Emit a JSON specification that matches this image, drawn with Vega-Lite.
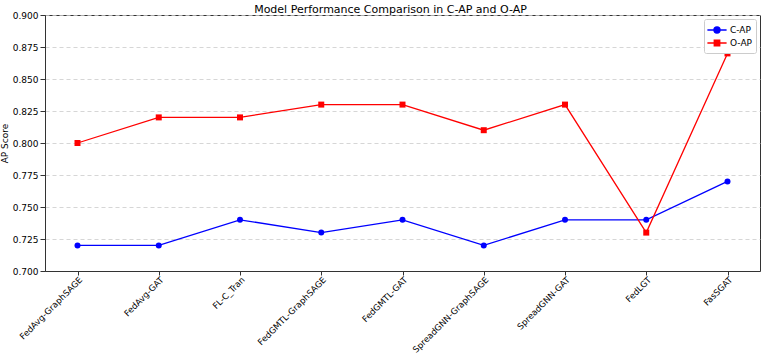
{
  "$schema": "https://vega.github.io/schema/vega-lite/v6.json",
  "width": 715,
  "height": 256,
  "autosize": {"type": "none"},
  "padding": {"left": 45, "top": 15, "right": 1, "bottom": 85},
  "title": {"text": "Model Performance Comparison in C-AP and O-AP", "fontSize": 11, "fontWeight": "normal", "font": "DejaVu Sans", "offset": 2, "dy": 6, "color": "#000000", "dx": -12},
  "config": {
    "font": "DejaVu Sans",
    "view": {"stroke": "#333333", "strokeWidth": 1}
  },
  "data": {"values": [
    {"model": "FedAvg-GraphSAGE", "metric": "C-AP", "value": 0.72},
    {"model": "FedAvg-GAT", "metric": "C-AP", "value": 0.72},
    {"model": "FL-C_Tran", "metric": "C-AP", "value": 0.74},
    {"model": "FedGMTL-GraphSAGE", "metric": "C-AP", "value": 0.73},
    {"model": "FedGMTL-GAT", "metric": "C-AP", "value": 0.74},
    {"model": "SpreadGNN-GraphSAGE", "metric": "C-AP", "value": 0.72},
    {"model": "SpreadGNN-GAT", "metric": "C-AP", "value": 0.74},
    {"model": "FedLGT", "metric": "C-AP", "value": 0.74},
    {"model": "FasSGAT", "metric": "C-AP", "value": 0.77},
    {"model": "FedAvg-GraphSAGE", "metric": "O-AP", "value": 0.80},
    {"model": "FedAvg-GAT", "metric": "O-AP", "value": 0.82},
    {"model": "FL-C_Tran", "metric": "O-AP", "value": 0.82},
    {"model": "FedGMTL-GraphSAGE", "metric": "O-AP", "value": 0.83},
    {"model": "FedGMTL-GAT", "metric": "O-AP", "value": 0.83},
    {"model": "SpreadGNN-GraphSAGE", "metric": "O-AP", "value": 0.81},
    {"model": "SpreadGNN-GAT", "metric": "O-AP", "value": 0.83},
    {"model": "FedLGT", "metric": "O-AP", "value": 0.73},
    {"model": "FasSGAT", "metric": "O-AP", "value": 0.87}
  ]},
  "encoding": {
    "x": {
      "field": "model", "type": "nominal", "sort": null,
      "scale": {"type": "point", "padding": 0.4},
      "axis": {"title": null, "labelAngle": -45, "labelAlign": "right", "labelBaseline": "top", "labelFontSize": 8.6, "labelColor": "#000000", "domainColor": "#333333", "tickColor": "#333333", "tickSize": 4, "grid": false, "labelPadding": 0}
    },
    "y": {
      "field": "value", "type": "quantitative",
      "scale": {"domain": [0.7, 0.9], "nice": false, "zero": false},
      "axis": {"title": "AP Score", "titleFontSize": 9, "titleFontWeight": "normal", "titleColor": "#000000", "labelFontSize": 9, "labelColor": "#000000", "format": ".3f", "values": [0.7, 0.725, 0.75, 0.775, 0.8, 0.825, 0.85, 0.875, 0.9], "grid": true, "gridDash": [4, 3], "gridColor": "#cccccc", "gridOpacity": 0.8, "domainColor": "#333333", "tickColor": "#333333", "titlePadding": 3}
    },
    "color": {
      "field": "metric", "type": "nominal",
      "scale": {"domain": ["C-AP", "O-AP"], "range": ["#0000ff", "#ff0000"]},
      "legend": {
        "title": null, "orient": "top-right", "offset": 4, "labelFontSize": 9, "labelColor": "#000000",
        "strokeColor": "#cccccc", "padding": 4, "fillColor": "#ffffff", "cornerRadius": 2,
        "symbolSize": 144, "labelOffset": 8, "rowPadding": 0,
        "encode": {"symbols": {"update": {
          "shape": {"signal": "datum.value === 'C-AP' ? 'M-1.6,0L1.6,0M0.5,0A0.5,0.5 0 1 1 -0.5,0A0.5,0.5 0 1 1 0.5,0Z' : 'M-1.6,0L1.6,0M-0.45,-0.45L0.45,-0.45L0.45,0.45L-0.45,0.45Z'"},
          "stroke": {"scale": "color", "field": "value"},
          "fill": {"scale": "color", "field": "value"},
          "strokeWidth": {"value": 1.4},
          "opacity": {"value": 1},
          "x": {"value": 9}
        }}}
      }
    }
  },
  "layer": [
    {"mark": {"type": "line", "strokeWidth": 1.3}},
    {"transform": [{"filter": "datum.metric === 'C-AP'"}], "mark": {"type": "point", "shape": "circle", "filled": true, "size": 36, "opacity": 1}},
    {"transform": [{"filter": "datum.metric === 'O-AP'"}], "mark": {"type": "point", "shape": "square", "filled": true, "size": 36, "opacity": 1}}
  ]
}
